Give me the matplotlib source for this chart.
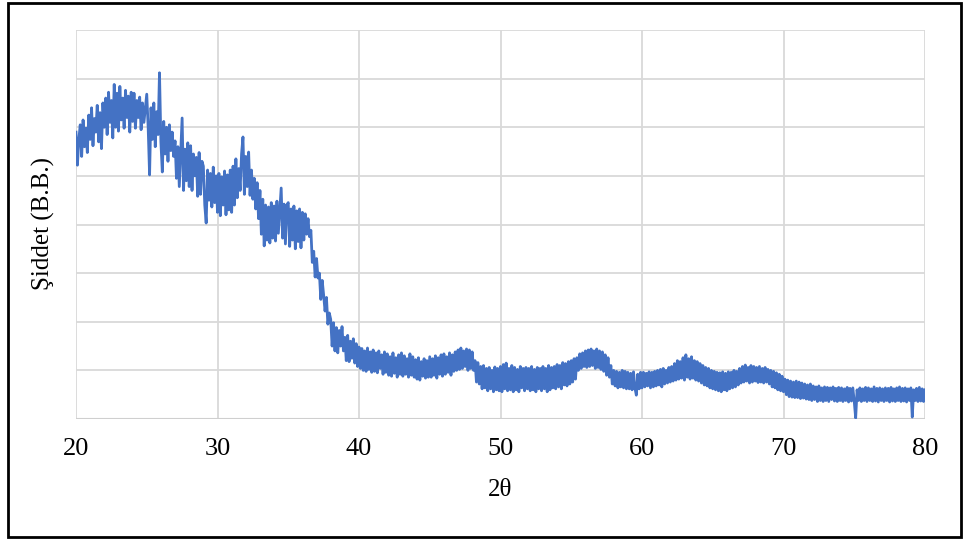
import numpy as np
import matplotlib
matplotlib.use("Agg")
import matplotlib.pyplot as plt
from matplotlib.patches import Rectangle

# XRD taraması: 2θ = 20 .. 80, adım 0.1
two_theta = np.round(np.linspace(20.0, 80.0, 601), 1)

intensity = [
    590, 522, 575, 605, 540, 615, 560, 598, 548, 625,   # 20
    575, 640, 562, 618, 590, 645, 570, 630, 556, 650,   # 21
    600, 660, 585, 672, 610, 655, 578, 688, 600, 670,   # 22
    592, 684, 615, 660, 598, 676, 620, 664, 590, 672,   # 23
    612, 670, 598, 655, 620, 662, 595, 650, 610, 640,   # 24
    668, 600, 502, 640, 575, 650, 560, 632, 585, 712,   # 25
    570, 508, 612, 545, 600, 530, 605, 552, 590, 540,   # 26
    572, 495, 560, 478, 548, 619, 470, 555, 490, 568,   # 27
    478, 562, 470, 545, 500, 538, 458, 548, 462, 530,   # 28
    520, 440, 403, 512, 450, 505, 436, 518, 445, 500,   # 29
    425, 505, 418, 498, 440, 510, 420, 502, 430, 512,   # 30
    425, 520, 440, 535, 455, 515, 470, 545, 580, 462,   # 31
    540, 478, 549, 460, 512, 452, 495, 432, 486, 412,   # 32
    470, 380, 452, 356, 440, 368, 436, 362, 445, 372,   # 33
    438, 366, 448, 382, 430, 475, 372, 442, 360, 440,   # 34
    445, 355, 432, 368, 438, 350, 428, 365, 432, 352,   # 35
    425, 368, 422, 380, 412, 375, 388, 322, 345, 292,   # 36
    330, 290, 300, 246, 285, 255, 222, 250, 195, 218,   # 37
    205, 150, 198, 140, 188, 136, 182, 150, 190, 140,   # 38
    168, 120, 172, 118, 160, 125, 165, 115, 155, 108,   # 39
    148, 104, 145, 100, 140, 98, 146, 102, 138, 96,     # 40
    142, 98, 136, 95, 140, 104, 132, 92, 138, 96,       # 41
    134, 90, 128, 88, 136, 94, 126, 86, 132, 92,        # 42
    136, 88, 130, 92, 124, 86, 134, 90, 128, 86,        # 43
    122, 82, 126, 80, 118, 88, 124, 84, 120, 86,        # 44
    128, 86, 124, 90, 130, 84, 126, 92, 132, 88,        # 45
    134, 92, 128, 96, 136, 90, 132, 98, 138, 100,       # 46
    142, 102, 146, 104, 140, 108, 144, 100, 142, 104,   # 47
    138, 100, 120, 76, 116, 72, 108, 62, 110, 64,       # 48
    104, 58, 106, 62, 100, 56, 107, 60, 104, 58,        # 49
    108, 56, 112, 62, 115, 58, 104, 60, 110, 56,        # 50
    106, 60, 102, 56, 108, 64, 104, 58, 106, 62,        # 51
    104, 58, 108, 60, 102, 56, 106, 62, 104, 58,        # 52
    108, 62, 104, 56, 110, 60, 106, 64, 108, 62,        # 53
    112, 66, 110, 62, 116, 70, 114, 68, 118, 72,        # 54
    120, 76, 124, 82, 126, 100, 134, 104, 136, 108,     # 55
    140, 106, 142, 108, 144, 110, 140, 104, 144, 106,   # 56
    140, 102, 138, 98, 132, 90, 126, 86, 110, 72,       # 57
    100, 68, 98, 64, 96, 66, 100, 64, 98, 62,           # 58
    96, 62, 94, 60, 97, 64, 49, 92, 62, 96,             # 59
    64, 96, 66, 94, 68, 97, 64, 96, 66, 98,             # 60
    68, 100, 70, 102, 66, 104, 72, 100, 74, 106,        # 61
    76, 108, 78, 114, 80, 120, 82, 118, 84, 126,        # 62
    80, 132, 86, 124, 82, 128, 84, 120, 80, 118,        # 63
    78, 114, 74, 110, 70, 106, 68, 104, 64, 100,        # 64
    62, 98, 60, 96, 58, 95, 56, 97, 60, 94,             # 65
    58, 97, 62, 96, 64, 100, 66, 98, 70, 104,           # 66
    74, 108, 76, 111, 78, 106, 74, 110, 76, 108,        # 67
    78, 106, 75, 108, 76, 104, 74, 106, 76, 102,        # 68
    72, 100, 66, 98, 64, 95, 60, 92, 58, 88,            # 69
    56, 82, 50, 80, 46, 78, 45, 76, 44, 78,             # 70
    44, 76, 42, 74, 43, 72, 41, 70, 40, 72,             # 71
    38, 68, 40, 66, 36, 68, 38, 64, 36, 66,             # 72
    38, 65, 36, 64, 40, 66, 37, 63, 36, 65,             # 73
    38, 64, 36, 62, 38, 65, 35, 63, 37, 64,             # 74
    36, 2, 60, 38, 64, 36, 62, 38, 65, 36,              # 75
    64, 38, 62, 36, 66, 37, 63, 35, 64, 38,             # 76
    62, 36, 64, 38, 63, 35, 65, 37, 62, 36,             # 77
    64, 38, 66, 36, 63, 37, 64, 35, 62, 38,             # 78
    64, 4, 60, 38, 63, 36, 65, 37, 62, 36,              # 79
    60,                                                 # 80
]

x_ticks = [20, 30, 40, 50, 60, 70, 80]

plt.rcParams['font.family'] = ['Liberation Serif', 'DejaVu Serif']

fig = plt.figure(figsize=(9.63, 5.4), dpi=100)
ax = fig.add_axes([76 / 963, 121 / 540, 849 / 963, 389 / 540])

ax.plot(two_theta, intensity, color='#4472C4', linewidth=2.0, zorder=3)

ax.set_xlim(20, 80)
ax.set_ylim(0, 800)
ax.set_xticks(x_ticks)
ax.set_yticks(np.arange(0, 801, 100))
ax.set_yticklabels([])
ax.grid(True, color='#d9d9d9', linewidth=1.3, zorder=0)
ax.tick_params(axis='both', length=0, labelsize=19, pad=14)
for s in ax.spines.values():
    s.set_visible(False)
ax.axhline(0, color='#cfcfcf', linewidth=1.5, zorder=2)

fig.text(500 / 963, 1 - 490 / 540, '2θ', ha='center', va='center', fontsize=18)
fig.text(43 / 963, 1 - 224 / 540, 'Şiddet (B.B.)', ha='center', va='center',
         rotation=90, fontsize=18)

# siyah çerçeve
fig.patches.append(Rectangle((8 / 963, 3 / 540), 953 / 963, 534 / 540,
                             transform=fig.transFigure, fill=False,
                             edgecolor='black', linewidth=2))

fig.savefig('out.png', dpi=100)
